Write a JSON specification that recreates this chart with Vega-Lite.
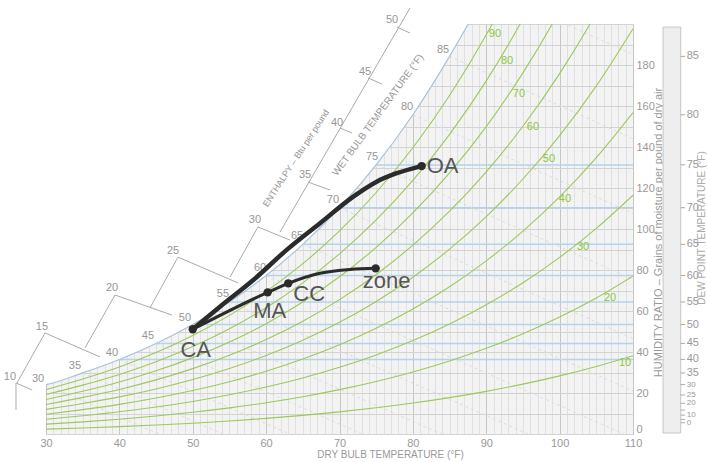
{
  "$schema": "https://vega.github.io/schema/vega-lite/v6.json",
  "width": 587,
  "height": 410,
  "autosize": {"type": "none"},
  "padding": {"left": 46, "top": 24, "right": 74, "bottom": 28},
  "background": "white",
  "config": {
    "font": "Liberation Sans",
    "view": {"fill": "#f3f3f3", "stroke": "#c6c6c6"}
  },
  "datasets": {
    "sat": [
      {"t": 29.8, "w": 23.95}, {"t": 30, "w": 24.07}, {"t": 35, "w": 29.82}, {"t": 40, "w": 36.36},
      {"t": 45, "w": 44.16}, {"t": 50, "w": 53.42}, {"t": 55, "w": 64.38}, {"t": 60, "w": 77.31},
      {"t": 65, "w": 92.52}, {"t": 70, "w": 110.37}, {"t": 75, "w": 131.28}, {"t": 80, "w": 155.72},
      {"t": 85, "w": 184.22}, {"t": 87.55, "w": 200}
    ],
    "dew": [
      {"t": 40, "w": 36.36}, {"t": 45, "w": 44.16}, {"t": 50, "w": 53.42}, {"t": 55, "w": 64.38},
      {"t": 60, "w": 77.31}, {"t": 65, "w": 92.52}, {"t": 70, "w": 110.37}, {"t": 75, "w": 131.28}
    ],
    "wb": [
      {"t": 30, "w": 24.07, "t2": 45.4, "w2": 0},
      {"t": 35, "w": 29.82, "t2": 54.1, "w2": 0},
      {"t": 40, "w": 36.36, "t2": 63.2, "w2": 0},
      {"t": 45, "w": 44.16, "t2": 73.1, "w2": 0},
      {"t": 50, "w": 53.42, "t2": 83.9, "w2": 0},
      {"t": 55, "w": 64.38, "t2": 95.7, "w2": 0},
      {"t": 60, "w": 77.31, "t2": 108.75, "w2": 0},
      {"t": 65, "w": 92.52, "t2": 110, "w2": 21.0},
      {"t": 70, "w": 110.37, "t2": 110, "w2": 46.6},
      {"t": 75, "w": 131.28, "t2": 110, "w2": 75.4},
      {"t": 80, "w": 155.72, "t2": 110, "w2": 107.6},
      {"t": 85, "w": 184.22, "t2": 110, "w2": 144.1},
      {"t": 90, "w": 217.45, "t2": 110, "w2": 185.2}
    ],
    "rh": [
      {"rh": 10, "t": 30, "w": 2.40}, {"rh": 10, "t": 35, "w": 2.96}, {"rh": 10, "t": 40, "w": 3.61}, {"rh": 10, "t": 45, "w": 4.38}, {"rh": 10, "t": 50, "w": 5.28}, {"rh": 10, "t": 55, "w": 6.35}, {"rh": 10, "t": 60, "w": 7.61}, {"rh": 10, "t": 65, "w": 9.08}, {"rh": 10, "t": 70, "w": 10.79}, {"rh": 10, "t": 75, "w": 12.78}, {"rh": 10, "t": 80, "w": 15.09}, {"rh": 10, "t": 85, "w": 17.75}, {"rh": 10, "t": 90, "w": 20.81}, {"rh": 10, "t": 95, "w": 24.32}, {"rh": 10, "t": 100, "w": 28.34}, {"rh": 10, "t": 105, "w": 32.93}, {"rh": 10, "t": 110, "w": 38.16},
      {"rh": 20, "t": 30, "w": 4.79}, {"rh": 20, "t": 35, "w": 5.93}, {"rh": 20, "t": 40, "w": 7.22}, {"rh": 20, "t": 45, "w": 8.76}, {"rh": 20, "t": 50, "w": 10.58}, {"rh": 20, "t": 55, "w": 12.73}, {"rh": 20, "t": 60, "w": 15.25}, {"rh": 20, "t": 65, "w": 18.19}, {"rh": 20, "t": 70, "w": 21.64}, {"rh": 20, "t": 75, "w": 25.64}, {"rh": 20, "t": 80, "w": 30.28}, {"rh": 20, "t": 85, "w": 35.64}, {"rh": 20, "t": 90, "w": 41.82}, {"rh": 20, "t": 95, "w": 48.92}, {"rh": 20, "t": 100, "w": 57.06}, {"rh": 20, "t": 105, "w": 66.37}, {"rh": 20, "t": 110, "w": 76.99},
      {"rh": 30, "t": 30, "w": 7.19}, {"rh": 30, "t": 35, "w": 8.90}, {"rh": 30, "t": 40, "w": 10.85}, {"rh": 30, "t": 45, "w": 13.16}, {"rh": 30, "t": 50, "w": 15.89}, {"rh": 30, "t": 55, "w": 19.12}, {"rh": 30, "t": 60, "w": 22.91}, {"rh": 30, "t": 65, "w": 27.35}, {"rh": 30, "t": 70, "w": 32.53}, {"rh": 30, "t": 75, "w": 38.57}, {"rh": 30, "t": 80, "w": 45.57}, {"rh": 30, "t": 85, "w": 53.68}, {"rh": 30, "t": 90, "w": 63.03}, {"rh": 30, "t": 95, "w": 73.79}, {"rh": 30, "t": 100, "w": 86.15}, {"rh": 30, "t": 105, "w": 100.32}, {"rh": 30, "t": 110, "w": 116.51},
      {"rh": 40, "t": 30, "w": 9.60}, {"rh": 40, "t": 35, "w": 11.88}, {"rh": 40, "t": 40, "w": 14.47}, {"rh": 40, "t": 45, "w": 17.56}, {"rh": 40, "t": 50, "w": 21.21}, {"rh": 40, "t": 55, "w": 25.53}, {"rh": 40, "t": 60, "w": 30.60}, {"rh": 40, "t": 65, "w": 36.54}, {"rh": 40, "t": 70, "w": 43.49}, {"rh": 40, "t": 75, "w": 51.58}, {"rh": 40, "t": 80, "w": 60.98}, {"rh": 40, "t": 85, "w": 71.86}, {"rh": 40, "t": 90, "w": 84.45}, {"rh": 40, "t": 95, "w": 98.95}, {"rh": 40, "t": 100, "w": 115.63}, {"rh": 40, "t": 105, "w": 134.79}, {"rh": 40, "t": 110, "w": 156.74},
      {"rh": 50, "t": 30, "w": 12.00}, {"rh": 50, "t": 35, "w": 14.86}, {"rh": 50, "t": 40, "w": 18.11}, {"rh": 50, "t": 45, "w": 21.97}, {"rh": 50, "t": 50, "w": 26.55}, {"rh": 50, "t": 55, "w": 31.95}, {"rh": 50, "t": 60, "w": 38.31}, {"rh": 50, "t": 65, "w": 45.77}, {"rh": 50, "t": 70, "w": 54.49}, {"rh": 50, "t": 75, "w": 64.67}, {"rh": 50, "t": 80, "w": 76.49}, {"rh": 50, "t": 85, "w": 90.20}, {"rh": 50, "t": 90, "w": 106.07}, {"rh": 50, "t": 95, "w": 124.39}, {"rh": 50, "t": 100, "w": 145.51}, {"rh": 50, "t": 105, "w": 169.80}, {"rh": 50, "t": 110, "w": 197.71},
      {"rh": 60, "t": 30, "w": 14.41}, {"rh": 60, "t": 35, "w": 17.85}, {"rh": 60, "t": 40, "w": 21.74}, {"rh": 60, "t": 45, "w": 26.39}, {"rh": 60, "t": 50, "w": 31.89}, {"rh": 60, "t": 55, "w": 38.40}, {"rh": 60, "t": 60, "w": 46.06}, {"rh": 60, "t": 65, "w": 55.04}, {"rh": 60, "t": 70, "w": 65.56}, {"rh": 60, "t": 75, "w": 77.83}, {"rh": 60, "t": 80, "w": 92.11}, {"rh": 60, "t": 85, "w": 108.69}, {"rh": 60, "t": 90, "w": 127.91}, {"rh": 60, "t": 95, "w": 150.13}, {"rh": 60, "t": 100, "w": 175.78}, {"rh": 60, "t": 105, "w": 205.37}, {"rh": 60, "t": 110, "w": 239.42},
      {"rh": 70, "t": 30, "w": 16.82}, {"rh": 70, "t": 35, "w": 20.83}, {"rh": 70, "t": 40, "w": 25.39}, {"rh": 70, "t": 45, "w": 30.82}, {"rh": 70, "t": 50, "w": 37.26}, {"rh": 70, "t": 55, "w": 44.87}, {"rh": 70, "t": 60, "w": 53.83}, {"rh": 70, "t": 65, "w": 64.35}, {"rh": 70, "t": 70, "w": 76.68}, {"rh": 70, "t": 75, "w": 91.07}, {"rh": 70, "t": 80, "w": 107.85}, {"rh": 70, "t": 85, "w": 127.34}, {"rh": 70, "t": 90, "w": 149.96}, {"rh": 70, "t": 95, "w": 176.16}, {"rh": 70, "t": 100, "w": 206.47}, {"rh": 70, "t": 105, "w": 241.5},
      {"rh": 80, "t": 30, "w": 19.24}, {"rh": 80, "t": 35, "w": 23.83}, {"rh": 80, "t": 40, "w": 29.04}, {"rh": 80, "t": 45, "w": 35.26}, {"rh": 80, "t": 50, "w": 42.63}, {"rh": 80, "t": 55, "w": 51.35}, {"rh": 80, "t": 60, "w": 61.63}, {"rh": 80, "t": 65, "w": 73.70}, {"rh": 80, "t": 70, "w": 87.85}, {"rh": 80, "t": 75, "w": 104.40}, {"rh": 80, "t": 80, "w": 123.69}, {"rh": 80, "t": 85, "w": 146.14}, {"rh": 80, "t": 90, "w": 172.24}, {"rh": 80, "t": 95, "w": 202.50}, {"rh": 80, "t": 100, "w": 237.6},
      {"rh": 90, "t": 30, "w": 21.65}, {"rh": 90, "t": 35, "w": 26.82}, {"rh": 90, "t": 40, "w": 32.70}, {"rh": 90, "t": 45, "w": 39.71}, {"rh": 90, "t": 50, "w": 48.02}, {"rh": 90, "t": 55, "w": 57.86}, {"rh": 90, "t": 60, "w": 69.45}, {"rh": 90, "t": 65, "w": 83.09}, {"rh": 90, "t": 70, "w": 99.08}, {"rh": 90, "t": 75, "w": 117.80}, {"rh": 90, "t": 80, "w": 139.65}, {"rh": 90, "t": 85, "w": 165.10}, {"rh": 90, "t": 90, "w": 194.73}, {"rh": 90, "t": 95, "w": 229.14}, {"rh": 90, "t": 100, "w": 269.1}
    ],
    "rhlab": [
      {"rh": "90", "t": 91.19, "w": 195.1}, {"rh": "80", "t": 92.83, "w": 182.0}, {"rh": "70", "t": 94.46, "w": 165.9},
      {"rh": "60", "t": 96.37, "w": 149.8}, {"rh": "50", "t": 98.55, "w": 134.1}, {"rh": "40", "t": 100.73, "w": 114.6},
      {"rh": "30", "t": 103.19, "w": 91.2}, {"rh": "20", "t": 106.87, "w": 66.3}, {"rh": "10", "t": 108.91, "w": 34.6}
    ],
    "wblab": [
      {"lab": "30", "t": 28.91, "w": 26.8}, {"lab": "35", "t": 33.95, "w": 33.2}, {"lab": "40", "t": 38.99, "w": 39.5},
      {"lab": "45", "t": 43.90, "w": 47.8}, {"lab": "50", "t": 48.94, "w": 56.6}, {"lab": "55", "t": 54.12, "w": 68.3},
      {"lab": "60", "t": 59.17, "w": 81.0}, {"lab": "65", "t": 64.21, "w": 96.6}, {"lab": "70", "t": 69.11, "w": 114.1},
      {"lab": "75", "t": 74.43, "w": 135.1}, {"lab": "80", "t": 79.20, "w": 159.5}, {"lab": "85", "t": 84.11, "w": 187.3}
    ],
    "enth": [
      {"t": 25.91, "w": 24.9, "t2": 25.91, "w2": 11.7},
      {"t": 25.91, "w": 24.9, "t2": 28.09, "w2": 21.5},
      {"t": 26.05, "w": 24.9, "t2": 29.86, "w2": 49.3},
      {"t": 29.86, "w": 49.3, "t2": 37.36, "w2": 37.6},
      {"t": 35.32, "w": 42.0, "t2": 39.40, "w2": 67.8},
      {"t": 39.40, "w": 67.8, "t2": 47.17, "w2": 58.0},
      {"t": 44.17, "w": 61.5, "t2": 47.99, "w2": 86.3},
      {"t": 47.99, "w": 86.3, "t2": 56.17, "w2": 73.7},
      {"t": 55.08, "w": 76.6, "t2": 58.89, "w2": 101.0},
      {"t": 58.89, "w": 101.0, "t2": 63.25, "w2": 94.6},
      {"t": 61.89, "w": 98.5, "t2": 79.61, "w2": 207.8},
      {"t": 65.71, "w": 122.9, "t2": 68.71, "w2": 119.0},
      {"t": 70.07, "w": 149.3, "t2": 71.70, "w2": 146.8},
      {"t": 73.88, "w": 173.7, "t2": 75.79, "w2": 170.7},
      {"t": 77.84, "w": 198.5, "t2": 79.61, "w2": 195.6}
    ],
    "enlab": [
      {"lab": "10", "t": 25.09, "w": 27.8}, {"lab": "15", "t": 29.45, "w": 52.2}, {"lab": "20", "t": 39.0, "w": 71.2},
      {"lab": "25", "t": 47.31, "w": 89.3}, {"lab": "30", "t": 58.48, "w": 104.4}, {"lab": "35", "t": 65.30, "w": 126.3},
      {"lab": "40", "t": 69.66, "w": 151.7}, {"lab": "45", "t": 73.48, "w": 176.6}, {"lab": "50", "t": 77.16, "w": 202.0}
    ],
    "titles": [
      {"label": "ENTHALPY – Btu per pound", "t": 64.07, "w": 134.6},
      {"label": "WET BULB TEMPERATURE (°F)", "t": 75.25, "w": 155.6}
    ],
    "dewstrip": [{"t": 114.1, "t2": 116.5, "w": 0.5, "w2": 198.5}],
    "dewtitle": [{"label": "DEW POINT TEMPERATURE (°F)", "t": 119.4, "w": 100.5}],
    "dewaxis": [
      {"dp": "85", "t": 116.5, "t2": 117.1, "w": 184.2}, {"dp": "80", "t": 116.5, "t2": 117.1, "w": 155.7},
      {"dp": "75", "t": 116.5, "t2": 117.1, "w": 131.3}, {"dp": "70", "t": 116.5, "t2": 117.1, "w": 110.4},
      {"dp": "65", "t": 116.5, "t2": 117.1, "w": 92.5}, {"dp": "60", "t": 116.5, "t2": 117.1, "w": 77.3},
      {"dp": "55", "t": 116.5, "t2": 117.1, "w": 64.4}, {"dp": "50", "t": 116.5, "t2": 117.1, "w": 53.4},
      {"dp": "45", "t": 116.5, "t2": 117.1, "w": 44.2}, {"dp": "40", "t": 116.5, "t2": 117.1, "w": 36.4},
      {"dp": "35", "t": 116.5, "t2": 117.1, "w": 29.8}, {"dp": "30", "t": 116.5, "t2": 117.1, "w": 24.1},
      {"dp": "25", "t": 116.5, "t2": 117.1, "w": 19.0}, {"dp": "20", "t": 116.5, "t2": 117.1, "w": 15.0},
      {"dp": "15", "t": 116.5, "t2": 117.1, "w": 11.7}, {"dp": "10", "t": 116.5, "t2": 117.1, "w": 9.2},
      {"dp": "5", "t": 116.5, "t2": 117.1, "w": 7.1}, {"dp": "0", "t": 116.5, "t2": 117.1, "w": 5.5}
    ],
    "lineOA": [
      {"t": 50.0, "w": 51.1}, {"t": 53.71, "w": 62.1}, {"t": 58.25, "w": 75.1}, {"t": 62.80, "w": 89.8},
      {"t": 67.34, "w": 102.8}, {"t": 71.88, "w": 115.8}, {"t": 75.07, "w": 123.1}, {"t": 77.80, "w": 127.2},
      {"t": 81.20, "w": 130.7}
    ],
    "lineZ": [
      {"t": 50.0, "w": 51.1}, {"t": 60.21, "w": 69.1}, {"t": 63.02, "w": 73.5}, {"t": 67.34, "w": 78.4},
      {"t": 71.43, "w": 80.3}, {"t": 74.93, "w": 80.8}
    ],
    "pts": [
      {"name": "OA", "t": 81.2, "w": 130.7}, {"name": "CA", "t": 50.0, "w": 51.1}, {"name": "MA", "t": 60.21, "w": 69.1},
      {"name": "CC", "t": 63.02, "w": 73.5}, {"name": "zone", "t": 74.93, "w": 80.8}
    ]
  },
  "encoding": {
    "x": {
      "field": "t", "type": "quantitative",
      "scale": {"domain": [30, 110], "nice": false, "zero": false},
      "axis": {
        "title": "DRY BULB TEMPERATURE (°F)", "tickCount": 80, "grid": true,
        "gridColor": {"condition": {"test": "datum.value % 10 === 0", "value": "#c6c6c6"}, "value": "#e0e0e0"},
        "ticks": false, "domain": false,
        "labelExpr": "datum.value % 10 === 0 ? datum.label : ''",
        "labelOverlap": false, "labelFlush": false, "labelPadding": 3, "labelFontSize": 11, "labelColor": "#999999",
        "titleFontSize": 10, "titleFontWeight": "normal", "titleColor": "#999999",
        "titleX": 344, "titleY": 15, "titleBaseline": "top", "titleAlign": "center"
      }
    },
    "y": {
      "field": "w", "type": "quantitative",
      "scale": {"domain": [0, 200], "nice": false, "zero": false},
      "axis": {
        "orient": "right", "title": "HUMIDITY RATIO – Grains of moisture per pound of dry air",
        "tickCount": 20, "grid": true, "gridColor": "#d3d3d3", "ticks": false, "domain": false,
        "labelExpr": "datum.value % 20 === 0 && datum.value < 200 ? datum.label : ''",
        "labelOverlap": false, "labelFlush": true, "labelPadding": 3, "labelFontSize": 11, "labelColor": "#999999",
        "titleFontSize": 11, "titleFontWeight": "normal", "titleColor": "#999999",
        "titleAngle": 270, "titleX": 25, "titleY": 208, "titleAlign": "center", "titleBaseline": "middle"
      }
    }
  },
  "layer": [
    {
      "data": {"name": "sat"},
      "mark": {"type": "area", "fill": "white", "interpolate": "monotone"},
      "encoding": {"y2": {"datum": 201}}
    },
    {
      "data": {"name": "dew"},
      "mark": {"type": "rule", "color": "#b4d2eb", "strokeWidth": 1.5},
      "encoding": {"x2": {"datum": 110}}
    },
    {
      "data": {"name": "wb"},
      "mark": {"type": "rule", "color": "#dcdcdc", "strokeWidth": 1, "strokeDash": [3, 3], "clip": true},
      "encoding": {"x2": {"field": "t2"}, "y2": {"field": "w2"}}
    },
    {
      "data": {"name": "rh"},
      "mark": {"type": "line", "color": "#9bc95a", "strokeWidth": 1.1, "interpolate": "monotone", "clip": true},
      "encoding": {"detail": {"field": "rh", "type": "nominal"}}
    },
    {
      "data": {"name": "sat"},
      "mark": {"type": "line", "color": "#a9c2da", "strokeWidth": 1.2, "interpolate": "monotone", "clip": true},
      "encoding": {}
    },
    {
      "data": {"name": "rhlab"},
      "mark": {"type": "text", "color": "#8cc63f", "fontSize": 11, "align": "center", "baseline": "middle"},
      "encoding": {"text": {"field": "rh"}}
    },
    {
      "data": {"name": "wblab"},
      "mark": {"type": "text", "color": "#969696", "fontSize": 11, "align": "center", "baseline": "middle"},
      "encoding": {"text": {"field": "lab"}}
    },
    {
      "data": {"name": "enth"},
      "mark": {"type": "rule", "color": "#aaaaaa", "strokeWidth": 1},
      "encoding": {"x2": {"field": "t2"}, "y2": {"field": "w2"}}
    },
    {
      "data": {"name": "enlab"},
      "mark": {"type": "text", "color": "#969696", "fontSize": 11, "align": "center", "baseline": "middle"},
      "encoding": {"text": {"field": "lab"}}
    },
    {
      "data": {"name": "titles"},
      "transform": [{"filter": "datum.label === 'ENTHALPY – Btu per pound'"}],
      "mark": {"type": "text", "color": "#969696", "fontSize": 9, "angle": 303, "align": "center", "baseline": "middle"},
      "encoding": {"text": {"field": "label"}}
    },
    {
      "data": {"name": "titles"},
      "transform": [{"filter": "datum.label === 'WET BULB TEMPERATURE (°F)'"}],
      "mark": {"type": "text", "color": "#969696", "fontSize": 10, "angle": 306, "align": "center", "baseline": "middle"},
      "encoding": {"text": {"field": "label"}}
    },
    {
      "data": {"name": "dewstrip"},
      "mark": {"type": "rect", "fill": "#eeeeee", "stroke": "#c6c6c6", "strokeWidth": 1},
      "encoding": {"x2": {"field": "t2"}, "y2": {"field": "w2"}}
    },
    {
      "data": {"name": "dewaxis"},
      "mark": {"type": "rule", "color": "#aaaaaa", "strokeWidth": 1},
      "encoding": {"x2": {"field": "t2"}}
    },
    {
      "data": {"name": "dewaxis"},
      "transform": [{"filter": "toNumber(datum.dp) >= 35"}],
      "mark": {"type": "text", "color": "#999999", "fontSize": 11, "align": "left", "baseline": "middle", "dx": 6},
      "encoding": {"text": {"field": "dp"}}
    },
    {
      "data": {"name": "dewaxis"},
      "transform": [{"filter": "toNumber(datum.dp) < 35 && datum.dp !== '15' && datum.dp !== '5'"}],
      "mark": {"type": "text", "color": "#999999", "fontSize": 8, "align": "left", "baseline": "middle", "dx": 6},
      "encoding": {"text": {"field": "dp"}}
    },
    {
      "data": {"name": "dewtitle"},
      "mark": {"type": "text", "color": "#aaaaaa", "fontSize": 10, "angle": 270, "align": "center", "baseline": "middle"},
      "encoding": {"text": {"field": "label"}}
    },
    {
      "data": {"name": "lineOA"},
      "mark": {"type": "line", "color": "#2b2b2b", "strokeWidth": 4.5, "interpolate": "monotone", "strokeCap": "round"},
      "encoding": {}
    },
    {
      "data": {"name": "lineZ"},
      "mark": {"type": "line", "color": "#2b2b2b", "strokeWidth": 3, "interpolate": "monotone", "strokeCap": "round"},
      "encoding": {}
    },
    {
      "data": {"name": "pts"},
      "mark": {"type": "point", "filled": true, "color": "#2b2b2b", "size": 70, "opacity": 1},
      "encoding": {}
    },
    {
      "data": {"name": "pts"},
      "transform": [{"filter": "datum.name === 'OA'"}],
      "mark": {"type": "text", "color": "#555555", "fontSize": 22, "align": "left", "baseline": "middle", "dx": 5},
      "encoding": {"text": {"field": "name"}}
    },
    {
      "data": {"name": "pts"},
      "transform": [{"filter": "datum.name === 'CA'"}],
      "mark": {"type": "text", "color": "#555555", "fontSize": 22, "align": "center", "baseline": "alphabetic", "dx": 3, "dy": 28},
      "encoding": {"text": {"field": "name"}}
    },
    {
      "data": {"name": "pts"},
      "transform": [{"filter": "datum.name === 'MA'"}],
      "mark": {"type": "text", "color": "#555555", "fontSize": 22, "align": "center", "baseline": "alphabetic", "dx": 2, "dy": 26},
      "encoding": {"text": {"field": "name"}}
    },
    {
      "data": {"name": "pts"},
      "transform": [{"filter": "datum.name === 'CC'"}],
      "mark": {"type": "text", "color": "#555555", "fontSize": 22, "align": "left", "baseline": "alphabetic", "dx": 5, "dy": 18},
      "encoding": {"text": {"field": "name"}}
    },
    {
      "data": {"name": "pts"},
      "transform": [{"filter": "datum.name === 'zone'"}],
      "mark": {"type": "text", "color": "#555555", "fontSize": 22, "align": "center", "baseline": "alphabetic", "dx": 11, "dy": 20},
      "encoding": {"text": {"field": "name"}}
    }
  ]
}
